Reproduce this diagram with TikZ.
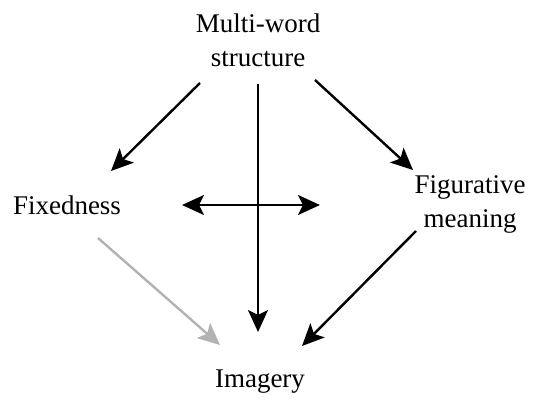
\documentclass[tikz,border=0pt]{standalone}
\usepackage{fontspec}
\setmainfont{Liberation Serif}
\usetikzlibrary{arrows.meta}
\begin{document}
\begin{tikzpicture}[x=1pt,y=-1pt,
  lbl/.style={align=center,font=\fontsize{27}{34}\selectfont,inner sep=0pt},
  arr/.style={line width=2.4pt,-{Stealth[length=22pt,width=20pt,inset=5pt]}},
  darr/.style={line width=2.4pt,{Stealth[length=22pt,width=20pt,inset=5pt]}-{Stealth[length=22pt,width=20pt,inset=5pt]}}]
\useasboundingbox (0,0) rectangle (544,402);
\node[lbl] (mw) at (258,40) {Multi-word\\structure};
\node[lbl] (fix) at (67,205) {Fixedness};
\node[lbl] (fig) at (470,204) {Figurative\\meaning};
\node[lbl] (img) at (260,382) {Imagery};
\coordinate (mwL) at (200,83);
\coordinate (mwR) at (315,80);
\coordinate (mwB) at (258,84);
\coordinate (fixT) at (111,171);
\coordinate (figT) at (413,170);
\coordinate (imgT) at (258,332);
\coordinate (hL) at (182,205);
\coordinate (hR) at (320,205);
\coordinate (fixB) at (98,238);
\coordinate (imgL) at (220,345);
\coordinate (figB) at (416,231);
\coordinate (imgR) at (302,346);
\draw[arr] (mwL) -- (fixT);
\draw[arr] (mwR) -- (figT);
\draw[arr] (mwB) -- (imgT);
\draw[darr] (hL) -- (hR);
\draw[arr,draw=black!30,fill=black!30] (fixB) -- (imgL);
\draw[arr] (figB) -- (imgR);
\end{tikzpicture}
\end{document}
